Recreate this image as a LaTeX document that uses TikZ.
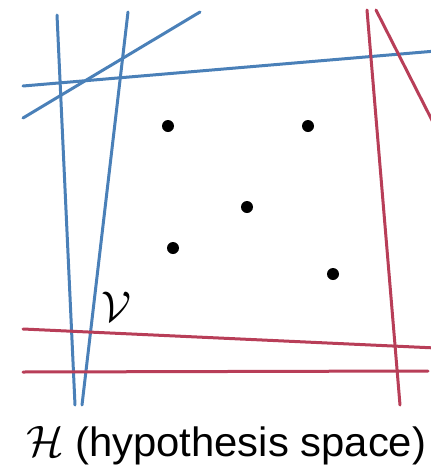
\documentclass[tikz,border=0pt]{standalone}
\usepackage{fontspec}
\setmainfont{Liberation Sans}
\definecolor{hblue}{RGB}{74,128,184}
\definecolor{hred}{RGB}{184,62,88}
\begin{document}
\begin{tikzpicture}[x=1pt,y=-1pt,
  bline/.style={hblue,line width=3pt,line cap=round},
  rline/.style={hred,line width=3pt,line cap=round},
  pt/.style={circle,fill=black,inner sep=0pt,minimum size=12pt}]
\useasboundingbox (0,0) rectangle (431,472);
\clip (0,0) rectangle (431,472);
% blue hypotheses
\coordinate (b1a) at (57,15);  \coordinate (b1b) at (75,405);
\coordinate (b2a) at (128,12); \coordinate (b2b) at (82,405);
\coordinate (b3a) at (23,86);  \coordinate (b3b) at (436,51);
\coordinate (b4a) at (23,118); \coordinate (b4b) at (200,12);
\draw[bline] (b1a) -- (b1b);
\draw[bline] (b2a) -- (b2b);
\draw[bline] (b3a) -- (b3b);
\draw[bline] (b4a) -- (b4b);
% red hypotheses
\coordinate (r1a) at (367,10); \coordinate (r1b) at (400,405);
\coordinate (r2a) at (376,10); \coordinate (r2b) at (440,136);
\coordinate (r3a) at (23,329); \coordinate (r3b) at (436,348);
\coordinate (r4a) at (23,372); \coordinate (r4b) at (428,371);
\draw[rline] (r1a) -- (r1b);
\draw[rline] (r2a) -- (r2b);
\draw[rline] (r3a) -- (r3b);
\draw[rline] (r4a) -- (r4b);
% data points
\node[pt] (p1) at (168,126) {};
\node[pt] (p2) at (308,126) {};
\node[pt] (p3) at (247,207) {};
\node[pt] (p4) at (173,248) {};
\node[pt] (p5) at (333,274) {};
% labels
\node[anchor=base west,inner sep=0pt] (vlab) at (101,321) {\scalebox{4.3}{$\mathcal{V}$}};
\node[anchor=base west,inner sep=0pt] (hlab) at (26,456) {\scalebox{4.4}{$\mathcal{H}$}};
\node[anchor=base west,inner sep=0pt,font=\fontsize{41}{41}\selectfont] (cap) at (75,456) {\scalebox{1.02}[1]{(hypothesis space)}};
\end{tikzpicture}
\end{document}
